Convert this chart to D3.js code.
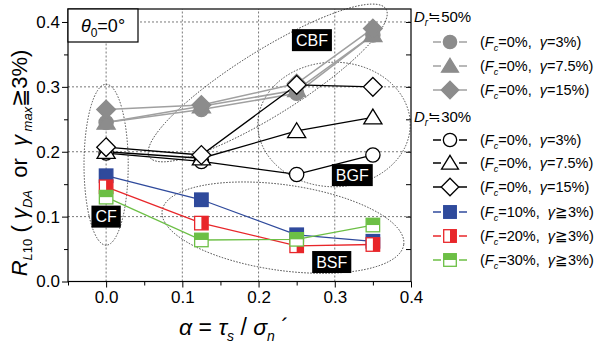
<!DOCTYPE html>
<html>
<head>
<meta charset="utf-8">
<script src="https://cdn.jsdelivr.net/npm/d3@7"></script>
<style>
  body { margin: 0; background: #fff; }
  svg { display: block; font-family: "Liberation Sans", Arial, sans-serif; }
  text { white-space: pre; }
</style>
</head>
<body>
<svg id="chart"></svg>
<script>
// x values (alpha = tau_s / sigma_n')
const alphaVals = [0, 0.125, 0.25, 0.35];

// Dr = 50 %, gray filled markers
const d50Gamma3 = [0.245, 0.265, 0.29, 0.38];
const d50Gamma75 = [0.245, 0.27, 0.295, 0.38];
const d50Gamma15 = [0.265, 0.272, 0.305, 0.39];

// Dr = 30 %, open markers
const d30Gamma3 = [0.198, 0.185, 0.165, 0.195];
const d30Gamma75 = [0.2, 0.19, 0.232, 0.253];
const d30Gamma15 = [0.207, 0.195, 0.303, 0.30];

// fines content
const fc10 = [0.163, 0.126, 0.072, 0.062];
const fc20 = [0.146, 0.09, 0.055, 0.057];
const fc30 = [0.13, 0.064, 0.065, 0.087];

const xTicks = [0, 0.1, 0.2, 0.3, 0.4];
const yTicks = [0, 0.1, 0.2, 0.3, 0.4];

const width = 598;
const height = 343;
const margin = {left: 68, right: 187, top: 9, bottom: 61.5};

const gray = '#8c8c8c';
const grayLine = '#a0a0a0';
const blue = '#2f4a9c';
const red = '#e8262a';
const green = '#6cbf45';

const series = [
    {values: d50Gamma3, shape: 'circle', fill: gray, stroke: gray, line: grayLine, fc: '0%', g: '=3%'},
    {values: d50Gamma75, shape: 'triangle', fill: gray, stroke: gray, line: grayLine, fc: '0%', g: '=7.5%'},
    {values: d50Gamma15, shape: 'diamond', fill: gray, stroke: gray, line: grayLine, fc: '0%', g: '=15%'},
    {values: d30Gamma3, shape: 'circle', fill: '#fff', stroke: '#000', line: '#000', fc: '0%', g: '=3%'},
    {values: d30Gamma75, shape: 'triangle', fill: '#fff', stroke: '#000', line: '#000', fc: '0%', g: '=7.5%'},
    {values: d30Gamma15, shape: 'diamond', fill: '#fff', stroke: '#000', line: '#000', fc: '0%', g: '=15%'},
    {values: fc10, shape: 'square', fill: blue, stroke: blue, line: blue, fc: '10%', g: '≧3%'},
    {values: fc20, shape: 'halfRight', fill: red, stroke: red, line: red, fc: '20%', g: '≧3%'},
    {values: fc30, shape: 'halfTop', fill: green, stroke: green, line: green, fc: '30%', g: '≧3%'}
];

let svg = d3.select('#chart').attr('width', width).attr('height', height);

let xScale = d3.scaleLinear()
    .domain([-0.05, 0.4])
    .range([margin.left, width - margin.right]);

let yScale = d3.scaleLinear()
    .domain([0, 0.42])
    .range([height - margin.bottom, margin.top]);

const x0 = xScale.range()[0], x1 = xScale.range()[1];
const y0 = yScale.range()[0], y1 = yScale.range()[1];

// grid
svg.append('g').selectAll('line.gx')
    .data(xTicks.slice(0, 4))
    .enter().append('line')
    .attr('x1', d => xScale(d)).attr('x2', d => xScale(d))
    .attr('y1', y0).attr('y2', y1)
    .attr('stroke', '#555').attr('stroke-width', 0.8).attr('stroke-dasharray', '2,2');
svg.append('g').selectAll('line.gy')
    .data(yTicks.slice(1))
    .enter().append('line')
    .attr('x1', x0).attr('x2', x1)
    .attr('y1', d => yScale(d)).attr('y2', d => yScale(d))
    .attr('stroke', '#555').attr('stroke-width', 0.8).attr('stroke-dasharray', '2,2');

// axes
let xAxis = d3.axisBottom(xScale).tickValues(xTicks).tickFormat(d3.format('.1f')).tickSize(6).tickPadding(3);
let xMinor = d3.axisBottom(xScale).tickValues([-0.05, 0.05, 0.15, 0.25, 0.35]).tickFormat('').tickSize(4);
let yAxis = d3.axisLeft(yScale).tickValues(yTicks).tickFormat(d3.format('.1f')).tickSize(6).tickPadding(2);
let yMinor = d3.axisLeft(yScale).tickValues([0.05, 0.15, 0.25, 0.35]).tickFormat('').tickSize(4);

function styleAxis(g) {
    g.select('.domain').remove();
    g.selectAll('line').attr('stroke', '#000');
    g.selectAll('text').attr('font-size', 17).attr('fill', '#000')
        .attr('font-family', '"Liberation Sans", Arial, sans-serif');
}

svg.append('g').attr('transform', 'translate(0,' + y0 + ')').call(xAxis).call(styleAxis);
svg.append('g').attr('transform', 'translate(0,' + y0 + ')').call(xMinor).call(styleAxis);
svg.append('g').attr('transform', 'translate(' + x0 + ',0)').call(yAxis).call(styleAxis);
svg.append('g').attr('transform', 'translate(' + x0 + ',0)').call(yMinor).call(styleAxis);
// mirrored inward ticks on the right side
svg.append('g').attr('transform', 'translate(' + x1 + ',0)')
    .call(d3.axisLeft(yScale).tickValues([0.05, 0.1, 0.15, 0.2, 0.25, 0.3, 0.35, 0.4]).tickFormat('').tickSize(5))
    .call(styleAxis);

// frame
svg.append('rect')
    .attr('x', x0).attr('y', y1)
    .attr('width', x1 - x0).attr('height', y0 - y1)
    .attr('fill', 'none').attr('stroke', '#000').attr('stroke-width', 1.2);

// dotted ellipses (regions), in data units
const regions = [
    {cx: 0, cy: 0.18, rx: 0.029, ry: 0.124, rot: 0},
    {cx: 0.212, cy: 0.306, rx: 0.183, ry: 0.05, rot: -32},
    {cx: 0.299, cy: 0.242, rx: 0.1, ry: 0.096, rot: 0},
    {cx: 0.232, cy: 0.083, rx: 0.16, ry: 0.066, rot: 8}
];
svg.append('g').selectAll('ellipse')
    .data(regions)
    .enter().append('ellipse')
    .attr('cx', 0).attr('cy', 0)
    .attr('rx', d => xScale(d.rx) - xScale(0))
    .attr('ry', d => yScale(0) - yScale(d.ry))
    .attr('transform', d => 'translate(' + xScale(d.cx) + ',' + yScale(d.cy) + ') rotate(' + d.rot + ')')
    .attr('fill', 'none').attr('stroke', '#222').attr('stroke-width', 0.8).attr('stroke-dasharray', '1.5,1.5');

// lines
let line = d3.line().x((d, i) => xScale(alphaVals[i])).y(d => yScale(d));
svg.append('g').selectAll('path')
    .data(series)
    .enter().append('path')
    .attr('d', d => line(d.values))
    .attr('fill', 'none')
    .attr('stroke', d => d.line)
    .attr('stroke-width', d => d.line === grayLine ? 1.6 : 1.3);

// marker drawing
function drawMarker(g, s, size) {
    const r = size;
    if (s.shape === 'circle') {
        g.append('circle').attr('r', r * 0.95).attr('fill', s.fill).attr('stroke', s.stroke).attr('stroke-width', 1.3);
    } else if (s.shape === 'triangle') {
        const h = r * 1.1;
        g.append('path').attr('d', 'M0,' + (-h) + 'L' + (h * 1.1) + ',' + (h * 0.8) + 'L' + (-h * 1.1) + ',' + (h * 0.8) + 'Z')
            .attr('fill', s.fill).attr('stroke', s.stroke).attr('stroke-width', 1.3);
    } else if (s.shape === 'diamond') {
        const h = r * 1.25;
        g.append('path').attr('d', 'M0,' + (-h) + 'L' + h + ',0L0,' + h + 'L' + (-h) + ',0Z')
            .attr('fill', s.fill).attr('stroke', s.stroke).attr('stroke-width', 1.3);
    } else {
        const a = r * 0.9;
        g.append('rect').attr('x', -a).attr('y', -a).attr('width', 2 * a).attr('height', 2 * a)
            .attr('fill', s.shape === 'square' ? s.fill : '#fff').attr('stroke', s.stroke).attr('stroke-width', 1.3);
        if (s.shape === 'halfRight') {
            g.append('rect').attr('x', 0).attr('y', -a).attr('width', a).attr('height', 2 * a).attr('fill', s.fill);
        } else if (s.shape === 'halfTop') {
            g.append('rect').attr('x', -a).attr('y', -a).attr('width', 2 * a).attr('height', a).attr('fill', s.fill);
        }
    }
}

series.forEach(s => {
    s.values.forEach((v, i) => {
        let g = svg.append('g').attr('transform', 'translate(' + xScale(alphaVals[i]) + ',' + yScale(v) + ')');
        drawMarker(g, s, 7.5);
    });
});

// region labels
const regionLabels = [
    {text: 'CF', x: 0.0, y: 0.1},
    {text: 'CBF', x: 0.27, y: 0.372},
    {text: 'BGF', x: 0.323, y: 0.164},
    {text: 'BSF', x: 0.296, y: 0.03}
];
regionLabels.forEach(l => {
    let g = svg.append('g').attr('transform', 'translate(' + xScale(l.x) + ',' + yScale(l.y) + ')');
    let t = g.append('text').attr('text-anchor', 'middle').attr('dy', '0.36em')
        .attr('font-size', 16).attr('fill', '#fff').text(l.text);
    let w = t.node().getComputedTextLength() + 8;
    g.insert('rect', 'text').attr('x', -w / 2).attr('y', -11).attr('width', w).attr('height', 22).attr('fill', '#000');
});

// theta box
svg.append('rect').attr('x', x0).attr('y', y1).attr('width', 70).attr('height', 33)
    .attr('fill', '#fff').attr('stroke', '#000').attr('stroke-width', 1.2);
let th = svg.append('text').attr('x', 103).attr('y', 32).attr('text-anchor', 'middle').attr('font-size', 18);
th.append('tspan').attr('font-style', 'italic').text('θ');
th.append('tspan').attr('font-size', 12).attr('dy', 5).text('0');
th.append('tspan').attr('dy', -5).text('=0°');

// y-axis title
let yt = svg.append('text').attr('transform', 'translate(27,163) rotate(-90)')
    .attr('text-anchor', 'middle').attr('font-size', 22);
yt.append('tspan').attr('font-style', 'italic').text('R');
yt.append('tspan').attr('font-size', 13).attr('font-style', 'italic').attr('dy', 5).text('L');
yt.append('tspan').attr('font-size', 13).text('10');
yt.append('tspan').attr('dy', -5).text(' ( ');
yt.append('tspan').attr('font-style', 'italic').text('γ');
yt.append('tspan').attr('font-size', 13).attr('font-style', 'italic').attr('dy', 5).text('DA');
yt.append('tspan').attr('dy', -5).text('  or  ');
yt.append('tspan').attr('font-style', 'italic').text('γ');
yt.append('tspan').attr('font-size', 13).attr('font-style', 'italic').attr('dy', 5).text(' max');
yt.append('tspan').attr('dy', -5).text('≧3%)');

// x-axis title
let xt = svg.append('text').attr('x', 234).attr('y', 335).attr('text-anchor', 'middle')
    .attr('font-size', 23).attr('font-style', 'italic');
xt.append('tspan').text('α');
xt.append('tspan').attr('font-style', 'normal').text(' = ');
xt.append('tspan').text('τ');
xt.append('tspan').attr('font-size', 14).attr('dy', 6).text('s');
xt.append('tspan').attr('font-style', 'normal').attr('dy', -6).text(' / ');
xt.append('tspan').text('σ');
xt.append('tspan').attr('font-size', 14).attr('dy', 6).text('n');
xt.append('tspan').attr('font-style', 'normal').attr('dy', -6).text(' ´');

// legend
const legendRows = [42, 66, 90, 140, 163, 187, 212, 236, 260];
const legendHeads = [{text: '50%', y: 16}, {text: '30%', y: 116}];
legendHeads.forEach(h => {
    let t = svg.append('text').attr('x', 414).attr('y', h.y + 6).attr('font-size', 15);
    t.append('tspan').attr('font-style', 'italic').text('D');
    t.append('tspan').attr('font-size', 10).attr('font-style', 'italic').attr('dy', 4).text('r');
    t.append('tspan').attr('dy', -4).text('≒' + h.text);
});
series.forEach((s, i) => {
    const y = legendRows[i];
    let g = svg.append('g').attr('transform', 'translate(450,' + y + ')');
    g.append('line').attr('x1', -17).attr('x2', -9).attr('stroke', s.line).attr('stroke-width', 1.5);
    g.append('line').attr('x1', 9).attr('x2', 17).attr('stroke', s.line).attr('stroke-width', 1.5);
    drawMarker(g, s, 7);
    let t = svg.append('text').attr('x', 480).attr('y', y + 5).attr('font-size', 14.5);
    t.append('tspan').text('(');
    t.append('tspan').attr('font-style', 'italic').text('F');
    t.append('tspan').attr('font-size', 9).attr('font-style', 'italic').attr('dy', 4).text('c');
    t.append('tspan').attr('dy', -4).text('=' + s.fc + ',  ');
    t.append('tspan').attr('font-style', 'italic').text('γ');
    t.append('tspan').text(s.g + ')');
});
</script>
</body>
</html>
